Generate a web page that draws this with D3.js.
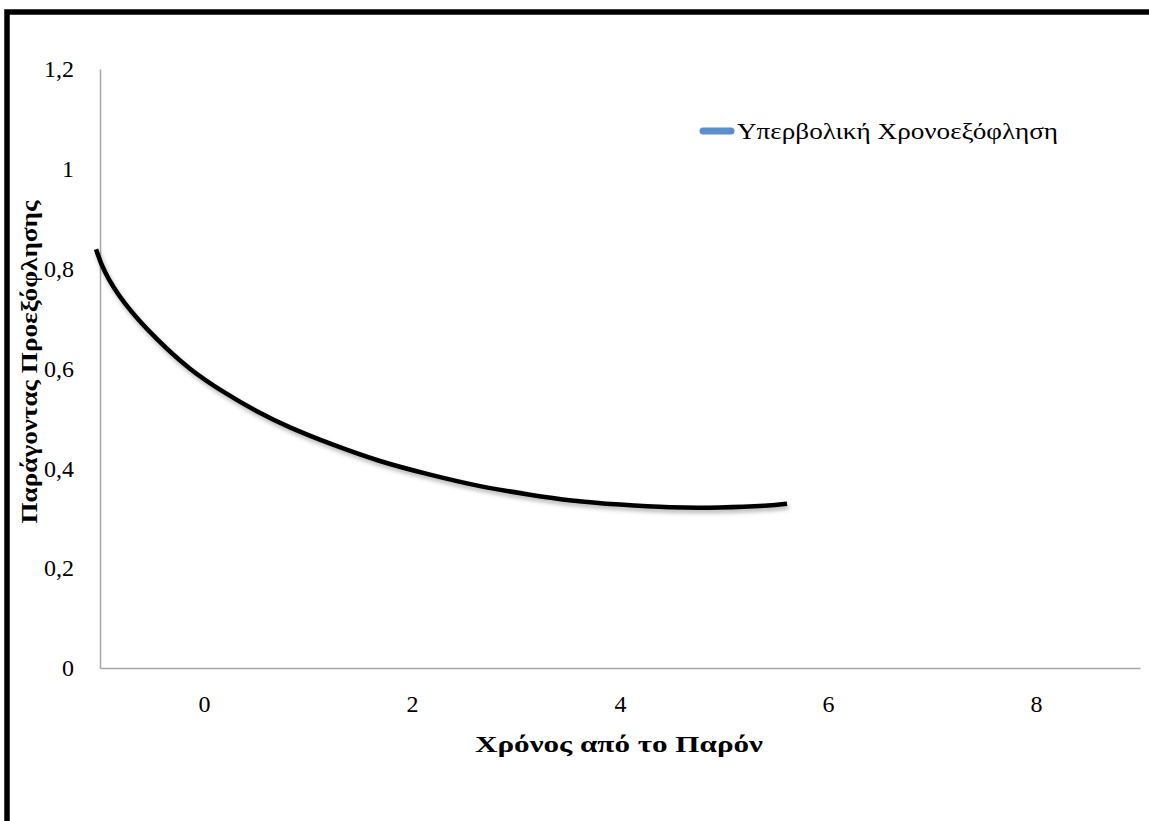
<!DOCTYPE html>
<html><head><meta charset="utf-8">
<script src="https://cdn.jsdelivr.net/npm/d3@7"></script>
<style>html,body{margin:0;padding:0;background:#fff;overflow:hidden}</style>
</head><body>
<script>
const xTicks = [0, 2, 4, 6, 8];
const yTicks = [0, 0.2, 0.4, 0.6, 0.8, 1, 1.2];
const seriesName = "Υπερβολική Χρονοεξόφληση";
const xTitle = "Χρόνος από το Παρόν";
const yTitle = "Παράγοντας Προεξόφλησης";
const tValues = [-1.038, -0.971, -0.779, -0.452, -0.135, 0.183, 0.510, 0.827, 1.212, 1.692, 2.173, 2.654, 3.135, 3.519, 4.0, 4.481, 4.962, 5.442, 5.606];
const dValues = [0.839, 0.797, 0.731, 0.657, 0.597, 0.553, 0.513, 0.481, 0.449, 0.413, 0.387, 0.363, 0.347, 0.335, 0.327, 0.321, 0.321, 0.325, 0.329];

const W = 1149, H = 821;
const svg = d3.select("body").append("svg").attr("width", W).attr("height", H);
const font = "'Liberation Serif','DejaVu Serif',serif";

const defs = svg.append("defs");
const f = defs.append("filter").attr("id","sh").attr("x","-10%").attr("y","-20%").attr("width","120%").attr("height","150%");
f.append("feDropShadow").attr("dx",1.5).attr("dy",3).attr("stdDeviation",2).attr("flood-color","#000").attr("flood-opacity",0.3);

const x = d3.scaleLinear().domain([-1, 9]).range([100, 1140]);
const y = d3.scaleLinear().domain([0, 1.2]).range([668, 69]);

// border
svg.append("rect").attr("x", 7).attr("y", 12).attr("width", W + 20).attr("height", H + 20)
  .attr("fill", "none").attr("stroke", "#000").attr("stroke-width", 5.5);

// axes
const xAxis = svg.append("g").attr("transform", `translate(0,${y(0)})`)
  .call(d3.axisBottom(x).tickValues(xTicks).tickSize(0).tickPadding(27).tickFormat(d3.format("d")));
xAxis.select(".domain").attr("stroke", "#a6a6a6").attr("stroke-width", 1.5);
xAxis.selectAll("text").attr("font-family", font).attr("font-size", 24).attr("fill", "#000");

const yAxis = svg.append("g").attr("transform", `translate(${x(-1)},0)`)
  .call(d3.axisLeft(y).tickValues(yTicks).tickSize(0).tickPadding(26)
    .tickFormat(d => String(d).replace(".", ",")));
yAxis.select(".domain").attr("stroke", "#a6a6a6").attr("stroke-width", 1.5);
yAxis.selectAll("text").attr("font-family", font).attr("font-size", 24).attr("fill", "#000");

// curve
const data = tValues.map((t, i) => [t, dValues[i]]);
svg.append("path").datum(data)
  .attr("d", d3.line().x(d => x(d[0])).y(d => y(d[1])).curve(d3.curveBasis))
  .attr("fill", "none").attr("stroke", "#000").attr("stroke-width", 4.5)
  .attr("filter", "url(#sh)");

// titles
svg.append("text").attr("x", 619).attr("y", 752).attr("text-anchor", "middle")
  .attr("font-family", font).attr("font-weight", "bold").attr("font-size", 24)
  .attr("textLength", 288).attr("lengthAdjust", "spacingAndGlyphs").text(xTitle);
svg.append("text").attr("transform", "translate(37,362) rotate(-90)").attr("text-anchor", "middle")
  .attr("font-family", font).attr("font-weight", "bold").attr("font-size", 24)
  .attr("textLength", 323).attr("lengthAdjust", "spacingAndGlyphs").text(yTitle);

// legend
svg.append("line").attr("x1", 703).attr("x2", 731).attr("y1", 131).attr("y2", 131)
  .attr("stroke", "#5b8fcb").attr("stroke-width", 7).attr("stroke-linecap", "round");
svg.append("text").attr("x", 737).attr("y", 139).attr("font-family", font).attr("font-size", 24)
  .attr("textLength", 321).attr("lengthAdjust", "spacingAndGlyphs").text(seriesName);
</script>
</body></html>
